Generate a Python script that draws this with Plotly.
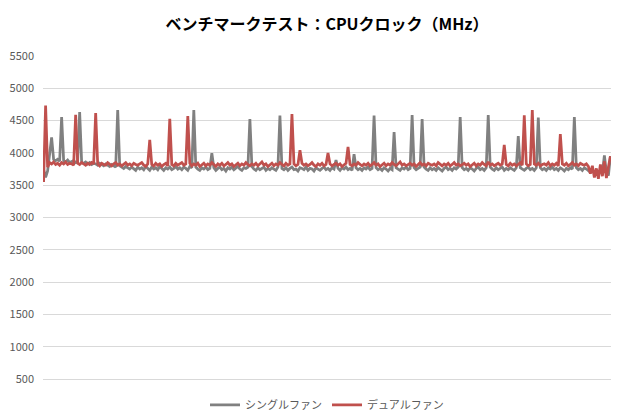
import plotly.graph_objects as go

title_text = "ベンチマークテスト：CPUクロック（MHz）"
series_names = ["シングルファン", "デュアルファン"]
y_ticks = [500, 1000, 1500, 2000, 2500, 3000, 3500, 4000, 4500, 5000, 5500]

single_fan = [
    3740, 3620, 3720, 4000, 4240, 3900, 3880, 3900, 3870, 4555, 3880, 3860, 3890, 3850, 3870, 3880, 3850, 3860, 4633, 3850,
    3840, 3860, 3830, 3850, 3820, 3840, 3830, 3810, 3840, 3820, 3800, 3830, 3810, 3790, 3820, 3800, 3780, 4664, 3800, 3780,
    3760, 3790, 3770, 3750, 3780, 3760, 3730, 3780, 3750, 3770, 3740, 3790, 3760, 3730, 3780, 3750, 3770, 3740, 3790, 3760,
    3730, 3770, 3750, 3780, 3740, 3760, 3790, 3750, 3770, 3740, 3780, 3760, 3730, 3790, 3770, 4664, 3780, 3750, 3730, 3770,
    3750, 3780, 3740, 3760, 3997, 3770, 3730, 3760, 3780, 3740, 3760, 3720, 3770, 3750, 3780, 3740, 3760, 3790, 3750, 3730,
    3770, 3760, 3780, 4524, 3790, 3750, 3730, 3770, 3740, 3760, 3780, 3730, 3760, 3740, 3770, 3750, 3730, 3780, 4580, 3760,
    3740, 3770, 3730, 3760, 3780, 3740, 3750, 3720, 3770, 3760, 3740, 3780, 3730, 3760, 3750, 3720, 3770, 3750, 3730, 3760,
    3780, 3740, 3760, 3730, 3770, 3750, 3888, 3760, 3730, 3770, 3750, 3780, 3740, 3760, 3730, 3981, 3770, 3740, 3760, 3730,
    3770, 3750, 3780, 3740, 3760, 4580, 3770, 3740, 3760, 3730, 3770, 3750, 3720, 3760, 3740, 4322, 3770, 3750, 3730, 3770,
    3750, 3780, 3740, 3760, 4586, 3770, 3740, 3760, 3780, 4524, 3780, 3750, 3730, 3770, 3740, 3760, 3730, 3770, 3750, 3720,
    3760, 3780, 3740, 3760, 3730, 3770, 3750, 3780, 4555, 3770, 3740, 3760, 3730, 3770, 3750, 3720, 3760, 3780, 3740, 3760,
    3730, 3770, 4586, 3780, 3750, 3730, 3770, 3740, 3760, 3780, 3730, 3760, 3740, 3770, 3750, 3730, 3770, 4260, 3770, 3750,
    3730, 3760, 3780, 3740, 3760, 3730, 3770, 4549, 3770, 3740, 3760, 3730, 3770, 3750, 3780, 3740, 3760, 3730, 3770, 3750,
    3720, 3760, 3740, 3770, 3750, 4555, 3770, 3740, 3760, 3730, 3770, 3750, 3730, 3700, 3740, 3680, 3720, 3660, 3740, 3690,
    3960, 3700, 3650, 3950,
]

dual_fan = [
    3550, 4735, 3780, 3850, 3830, 3860, 3820, 3840, 3810, 3850, 3830, 3860, 3820, 3840, 3830, 3810, 4590, 3840, 3820, 3850,
    3830, 3810, 3840, 3820, 3850, 3830, 4617, 3830, 3800, 3840, 3820, 3810, 3850, 3820, 3800, 3830, 3850, 3810, 3830, 3800,
    3820, 3850, 3810, 3830, 3800, 3840, 3820, 3810, 3830, 3850, 3810, 3790, 3830, 4203, 3820, 3800, 3840, 3810, 3830, 3790,
    3820, 3840, 3800, 4529, 3820, 3800, 3840, 3810, 3830, 3850, 3810, 3830, 4571, 3840, 3800, 3830, 3810, 3840, 3790, 3820,
    3840, 3800, 3830, 3810, 3850, 3820, 3790, 3830, 3810, 3840, 3800, 3820, 3850, 3810, 3830, 3790, 3820, 3840, 3800, 3830,
    3810, 3850, 3820, 3800, 3830, 3810, 3840, 3800, 3830, 3860, 3810, 3830, 3790, 3820, 3840, 3800, 3830, 3810, 3850, 3820,
    3800, 3840, 3810, 3830, 4602, 3830, 3800, 3820, 4043, 3840, 3810, 3830, 3800, 3820, 3850, 3810, 3790, 3830, 3810, 3840,
    3800, 3820, 3997, 3830, 3800, 3820, 3840, 3810, 3830, 3790, 3820, 3840, 4094, 3820, 3800, 3830, 3810, 3850, 3820, 3800,
    3830, 3810, 3840, 3800, 3820, 3850, 3810, 3830, 3790, 3820, 3840, 3800, 3830, 3810, 3850, 3820, 3800, 3830, 3860, 3810,
    3830, 3800, 3820, 3840, 3810, 3830, 3790, 3820, 3850, 3810, 3830, 3800, 3840, 3820, 3810, 3830, 3800, 3850, 3820, 3800,
    3830, 3810, 3840, 3800, 3820, 3850, 3810, 3830, 3800, 3820, 3840, 3810, 3830, 3790, 3820, 3840, 3800, 3830, 3810, 3850,
    3820, 3800, 3860, 3810, 3830, 3800, 3820, 3840, 3810, 3830, 4125, 3820, 3800, 3840, 3810, 3830, 3800, 3820, 3850, 3810,
    4580, 3830, 3800, 3820, 4664, 3830, 3810, 3840, 3800, 3820, 3830, 3810, 3850, 3800, 3830, 3810, 3840, 3800, 4291, 3830,
    3810, 3840, 3800, 3820, 3850, 3810, 3830, 3800, 3840, 3820, 3810, 3830, 3790, 3680, 3800, 3620, 3760, 3600, 3820, 3640,
    3870, 3610, 3780, 3950,
]

x_vals = list(range(len(single_fan)))

font_family = "Noto Sans CJK JP, Noto Sans, sans-serif"

fig = go.Figure()
fig.add_trace(go.Scatter(
    x=x_vals, y=single_fan, mode="lines", name=series_names[0],
    line=dict(color="#808080", width=2.75),
))
fig.add_trace(go.Scatter(
    x=x_vals, y=dual_fan, mode="lines", name=series_names[1],
    line=dict(color="#c0504d", width=2.75),
))

fig.update_layout(
    width=620, height=420,
    paper_bgcolor="white", plot_bgcolor="white",
    margin=dict(l=43, r=9, t=56, b=41, autoexpand=False),
    font=dict(family=font_family, color="#595959", size=11),
    title=dict(
        text="<b>" + title_text + "</b>",
        x=0.5, xanchor="center", xref="paper",
        y=0.943, yanchor="middle", yref="container",
        font=dict(size=16, color="#000000", family=font_family),
    ),
    xaxis=dict(
        range=[-0.3, len(single_fan) - 0.7],
        showgrid=False, showticklabels=False, zeroline=False,
        showline=True, linecolor="#d9d9d9", linewidth=1, ticks="",
        automargin=False,
    ),
    yaxis=dict(
        range=[500, 5500], tickvals=y_ticks,
        showgrid=True, gridcolor="#d9d9d9", gridwidth=1,
        zeroline=False, showline=False, ticks="",
        ticklabelstandoff=8, automargin=False,
        tickfont=dict(size=11, color="#595959"),
    ),
    legend=dict(
        orientation="h", x=0.5, xanchor="center", xref="paper",
        y=0.036, yanchor="middle", yref="container",
        font=dict(size=11, color="#595959"),
        traceorder="normal",
    ),
    showlegend=True,
)

fig.write_html(
    "out.html",
    config={"displayModeBar": False},
    post_script="document.body.style.margin='0';document.body.style.padding='0';",
)
